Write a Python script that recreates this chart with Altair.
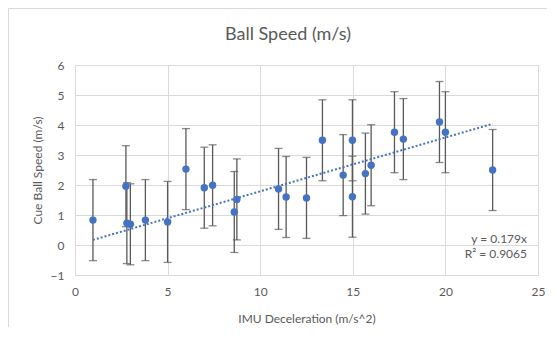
import altair as alt
import pandas as pd

# IMU deceleration (m/s^2) and cue ball speed (m/s)
imu = [0.97, 2.75, 2.8, 2.99, 3.8, 5.0, 5.99, 6.98, 7.43, 8.6, 8.74, 10.99, 11.4,
       12.5, 13.36, 14.48, 14.98, 14.98, 15.68, 15.99, 17.25, 17.73, 19.68, 20.0, 22.55]
speed = [0.83, 1.96, 0.73, 0.69, 0.83, 0.77, 2.53, 1.91, 1.99, 1.1, 1.52, 1.87, 1.6,
         1.57, 3.49, 2.33, 3.49, 1.61, 2.38, 2.66, 3.76, 3.53, 4.1, 3.76, 2.5]
err = [1.35, 1.35, 1.35, 1.35, 1.35, 1.35, 1.35, 1.35, 1.35, 1.35, 1.35, 1.35, 1.35,
       1.35, 1.35, 1.35, 1.35, 1.35, 1.35, 1.35, 1.35, 1.35, 1.35, 1.35, 1.35]

trend_x = [0.97, 22.55]
trend_y = [0.17, 4.04]
eq_lines = ["y = 0.179x", "R² = 0.9065"]
title_text = "Ball Speed (m/s)"
x_ticks = [0, 5, 10, 15, 20, 25]
y_ticks = [-1, 0, 1, 2, 3, 4, 5, 6]

FONT = "Lato"
TXT = "#595959"
BLUE = "#4472C4"

df = pd.DataFrame({"x": imu, "y": speed, "err": err})
df["lo"] = df["y"] - df["err"]
df["hi"] = df["y"] + df["err"]
tdf = pd.DataFrame({"x": trend_x, "y": trend_y})
one = pd.DataFrame({"a": [0]})

xs = alt.Scale(domain=[0, 25], nice=False, zero=False)
ys = alt.Scale(domain=[-1, 6], nice=False, zero=False)

xaxis = alt.Axis(values=x_ticks, title="IMU Deceleration (m/s^2)",
                 grid=True, gridColor="#d9d9d9", domain=False, ticks=False,
                 labelOverlap=False, labelFlush=False, labelBound=False,
                 labelColor=TXT, labelFont=FONT, labelFontSize=12, labelPadding=11,
                 titleColor=TXT, titleFont=FONT, titleFontSize=12, titleFontWeight="normal",
                 titleY=43, titleBaseline="middle")
yaxis = alt.Axis(values=y_ticks, title="Cue Ball Speed (m/s)",
                 grid=True, gridColor="#d9d9d9", domain=False, ticks=False,
                 labelOverlap=False, labelFlush=False, labelBound=False,
                 labelColor=TXT, labelFont=FONT, labelFontSize=12, labelPadding=11,
                 titleColor=TXT, titleFont=FONT, titleFontSize=12, titleFontWeight="normal",
                 titleX=-38, titleY=105, titleAngle=-90, titleBaseline="middle", titleAlign="center")

X = lambda f: alt.X(f, scale=xs, axis=xaxis)
Y = lambda f: alt.Y(f, scale=ys, axis=yaxis)

base = alt.Chart(df)

border_top = alt.Chart(one).mark_rule(color="#d9d9d9", strokeWidth=1, clip=False).encode(
    x=alt.value(-66.5), x2=alt.value(480), y=alt.value(-56.5))
border_left = alt.Chart(one).mark_rule(color="#d9d9d9", strokeWidth=1, clip=False).encode(
    x=alt.value(-66.5), y=alt.value(-56.5), y2=alt.value(270))

rules = base.mark_rule(color=TXT, strokeWidth=1.3).encode(
    x=X("x:Q"), y=Y("lo:Q"), y2="hi:Q")
caps_hi = base.mark_tick(color=TXT, orient="horizontal", size=8, thickness=1.3).encode(
    x=X("x:Q"), y=Y("hi:Q"))
caps_lo = base.mark_tick(color=TXT, orient="horizontal", size=8, thickness=1.3).encode(
    x=X("x:Q"), y=Y("lo:Q"))
trend = alt.Chart(tdf).mark_line(color=BLUE, strokeWidth=2, strokeDash=[2, 2]).encode(
    x=X("x:Q"), y=Y("y:Q"))
pts = base.mark_circle(color=BLUE, opacity=1, size=55).encode(
    x=X("x:Q"), y=Y("y:Q"))

eq1 = alt.Chart(one).mark_text(align="right", baseline="middle", font=FONT, fontSize=12,
                               color=TXT, text=eq_lines[0]).encode(
    x=alt.value(452), y=alt.value(173.5))
eq2 = alt.Chart(one).mark_text(align="right", baseline="middle", font=FONT, fontSize=12,
                               color=TXT, text=eq_lines[1]).encode(
    x=alt.value(452), y=alt.value(189))
ttl = alt.Chart(one).mark_text(align="center", baseline="middle", font=FONT, fontSize=18,
                               color=TXT, text=title_text, clip=False).encode(
    x=alt.value(213), y=alt.value(-30))

chart = alt.layer(border_top, border_left, rules, caps_hi, caps_lo, trend, pts,
                  eq1, eq2, ttl).properties(
    width=463, height=210,
    autosize=alt.AutoSizeParams(type="none"),
    padding={"left": 67, "top": 57, "right": 9, "bottom": 52},
).configure_view(stroke="#d9d9d9").configure(background="white")

chart.save("out.html", embed_options={"renderer": "svg", "actions": False})
